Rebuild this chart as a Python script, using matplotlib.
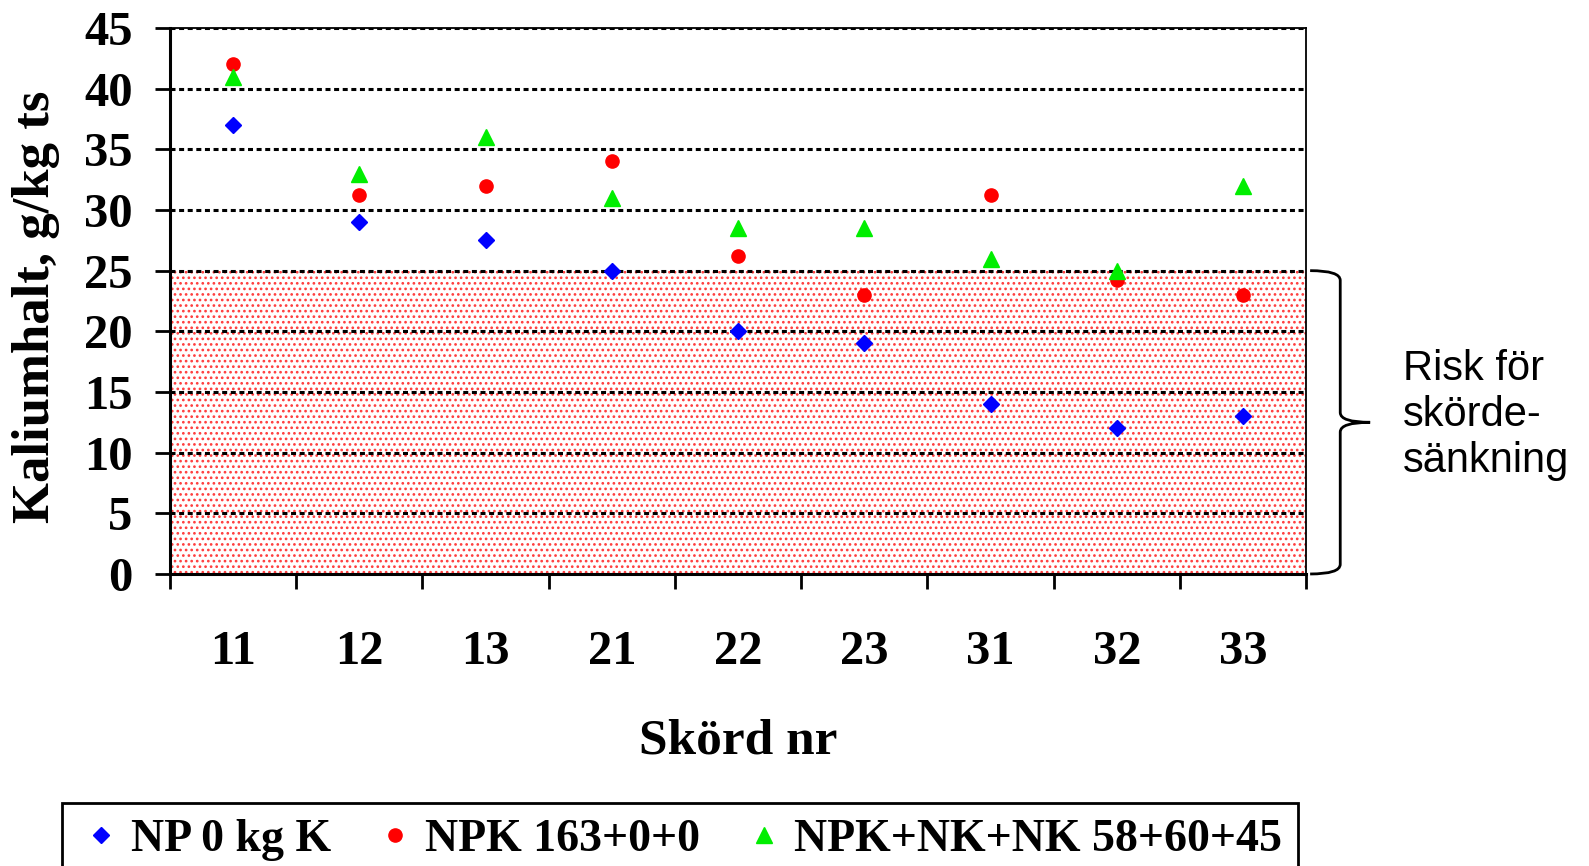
#%% Kaliumhalt per skörd - scatter with risk zone
import numpy as np
import matplotlib.pyplot as plt
from matplotlib.path import Path
from matplotlib.patches import PathPatch, Rectangle
import matplotlib.transforms as mtransforms

#%% Data
skord = ['11', '12', '13', '21', '22', '23', '31', '32', '33']
np_0k = [37, 29, 27.5, 25, 20, 19, 14, 12, 13]
npk_163 = [42, 31.2, 32, 34, 26.2, 23, 31.2, 24.2, 23]
npk_nk_nk = [41, 33, 36, 31, 28.5, 28.5, 26, 25, 32]
y_ticks = [0, 5, 10, 15, 20, 25, 30, 35, 40, 45]
risk_level = 25

#%% Style
serif = ['Liberation Serif', 'DejaVu Serif']
sans = ['Liberation Sans', 'DejaVu Sans']
plt.rcParams['hatch.color'] = '#ff3c3c'
plt.rcParams['hatch.linewidth'] = 1.15
plt.rcParams['lines.scale_dashes'] = False

fig = plt.figure(figsize=(15.89, 8.66), dpi=100)
ax = fig.add_axes([0.107, 0.3372, 0.715, 0.6305])

x = np.arange(len(skord))

# risk zone below 25
ax.add_patch(Rectangle((-0.5, 0), len(skord), risk_level, facecolor='white',
                       edgecolor='#ff3c3c', linewidth=0, hatch='...', zorder=0.5))

ax.plot(x, np_0k, ls='none', marker='D', ms=8, color='blue', label='NP 0 kg K', zorder=3)
ax.plot(x, npk_163, ls='none', marker='o', ms=9.5, color='red', label='NPK 163+0+0', zorder=3)
ax.plot(x, npk_nk_nk, ls='none', marker='^', ms=11, color='#00ee00',
        label='NPK+NK+NK 58+60+45', zorder=3)

#%% Axes
ax.set_xlim(-0.5, len(skord) - 0.5)
ax.set_ylim(0, 45)
ax.set_yticks(y_ticks)
ax.set_yticklabels([str(v) for v in y_ticks], fontfamily=serif, fontweight='bold', fontsize=35)
ax.set_xticks(x)
ax.set_xticklabels(skord, fontfamily=serif, fontweight='bold', fontsize=35)
ax.set_xticks(np.arange(len(skord) + 1) - 0.5, minor=True)
ax.tick_params(axis='x', which='major', length=0, pad=40)
ax.tick_params(axis='x', which='minor', length=11, width=2, direction='out')
ax.tick_params(axis='y', length=11, width=2, pad=16)

ax.yaxis.grid(True, color='black', lw=2.2, dashes=(3.6, 2.6), zorder=1)
ax.set_axisbelow(False)
ax.spines['left'].set_linewidth(2.2)
ax.spines['bottom'].set_linewidth(2.2)
ax.spines['top'].set_linewidth(1.3)
ax.spines['right'].set_linewidth(1.3)
for s in ax.spines.values():
    s.set_zorder(4)

ax.set_ylabel('Kaliumhalt, g/kg ts', fontfamily=serif, fontweight='bold', fontsize=38)
ax.yaxis.set_label_coords(-0.097, 0.49)
ax.set_xlabel('Skörd nr', fontfamily=serif, fontweight='bold', fontsize=37)
ax.xaxis.set_label_coords(0.5, -0.265)

#%% Brace and risk text
trans = mtransforms.blended_transform_factory(ax.transAxes, ax.transData)
x0, x1, x2 = 1.0035, 1.030, 1.0563
mid = risk_level / 2
verts = [(x0, risk_level), (x1, risk_level), (x1, risk_level - 0.8),
         (x1, mid + 0.8), (x1, mid), (x2, mid),
         (x1, mid), (x1, mid - 0.8),
         (x1, 0.8), (x1, 0), (x0, 0)]
codes = [Path.MOVETO, Path.CURVE3, Path.CURVE3,
         Path.LINETO, Path.CURVE3, Path.CURVE3,
         Path.CURVE3, Path.CURVE3,
         Path.LINETO, Path.CURVE3, Path.CURVE3]
ax.add_patch(PathPatch(Path(verts, codes), transform=trans, fill=False,
                       lw=2, edgecolor='black', clip_on=False))
ax.text(1.085, 13.1, 'Risk för\nskörde-\nsänkning', transform=trans,
        ha='left', va='center', fontfamily=sans, fontsize=30, linespacing=1.2)

#%% Legend
leg = fig.legend(loc='upper left', bbox_to_anchor=(62 / 1589, 1 - 803 / 866), ncol=3,
                 prop={'family': serif, 'weight': 'bold', 'size': 33},
                 frameon=True, fancybox=False, edgecolor='black', framealpha=1,
                 handlelength=1.0, handletextpad=0.15, columnspacing=0.9,
                 borderpad=0.35, borderaxespad=0)
leg.get_frame().set_linewidth(2)

fig.savefig('out.png', dpi=100)
